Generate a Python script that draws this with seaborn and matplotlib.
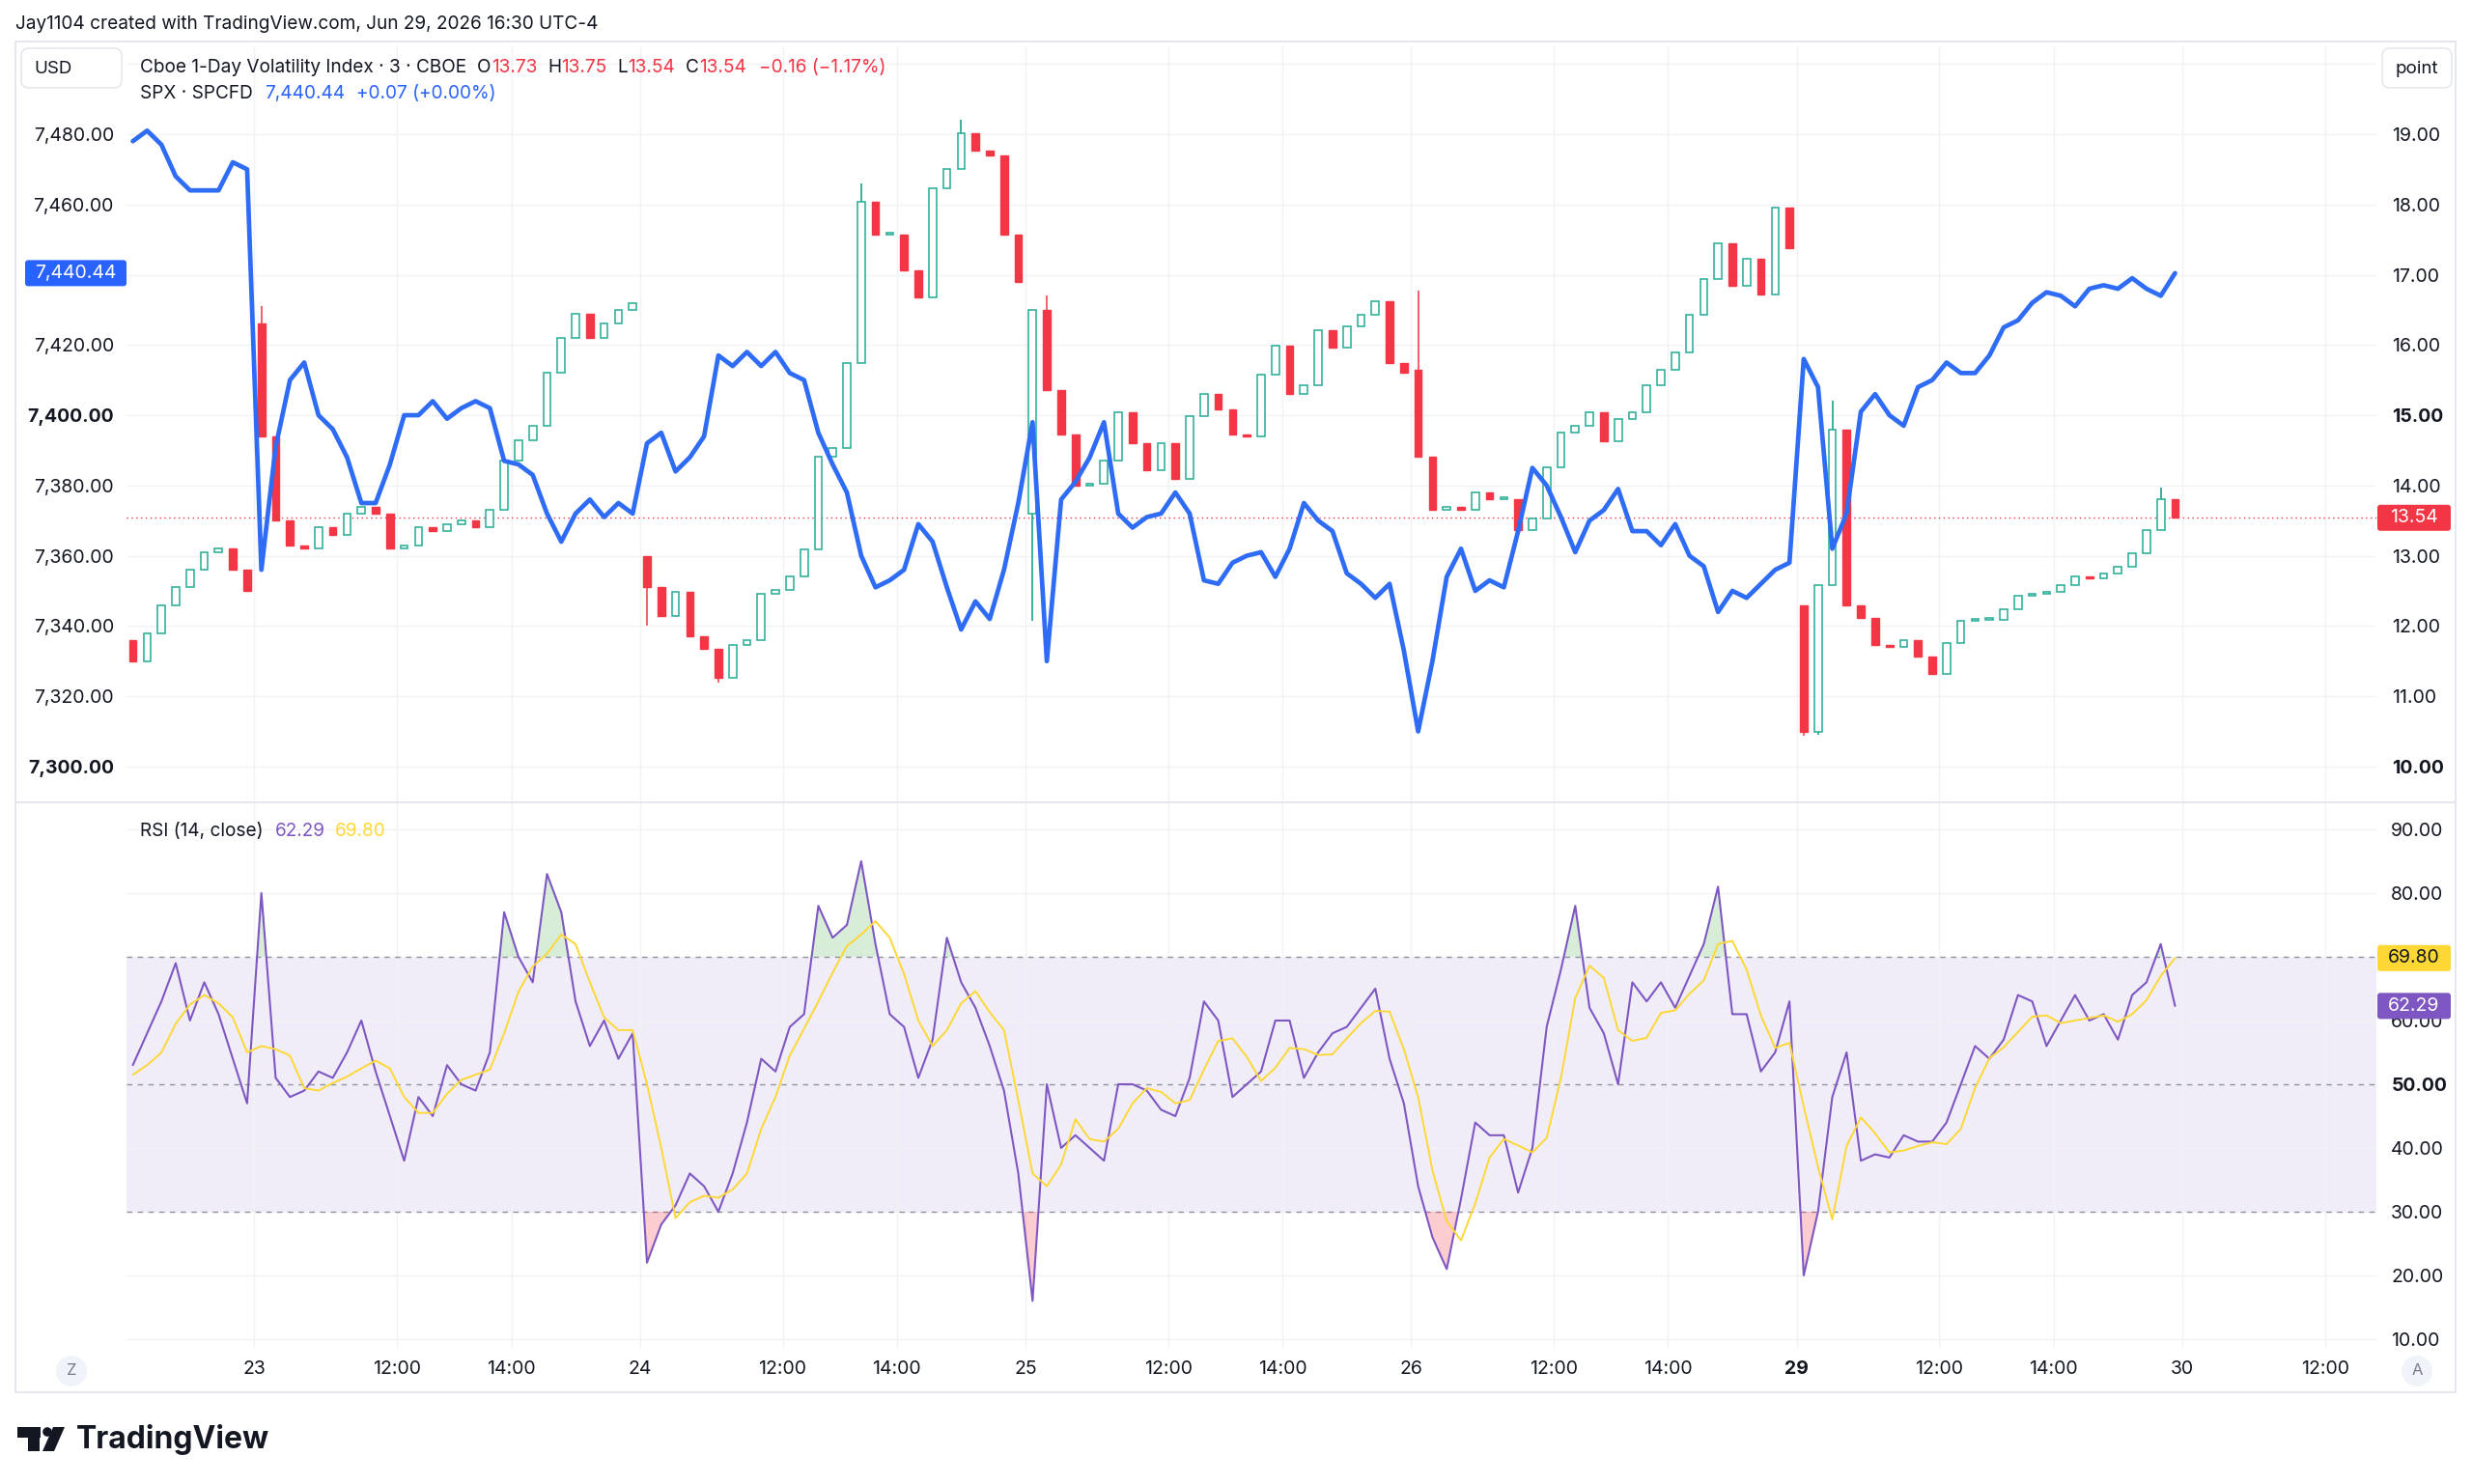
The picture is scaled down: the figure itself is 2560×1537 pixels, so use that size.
import numpy as np
import matplotlib
matplotlib.use("Agg")
import matplotlib.pyplot as plt
import seaborn as sns
from matplotlib.patches import FancyBboxPatch, Rectangle, Circle, Polygon

# ===================== DATA (15-minute bars) =====================
DAY_LABELS = ["23", "24", "25", "26", "29", "30"]
BOLD_DAYS = ["29"]

SPX_CLOSE = [
    7478, 7481, 7477, 7468, 7464, 7464, 7464, 7472, 7470,
    7356, 7391, 7410, 7415, 7400, 7396, 7388, 7375, 7375, 7386, 7400, 7400, 7404, 7399,
    7402, 7404, 7402, 7387, 7386, 7383, 7372, 7364, 7372, 7376, 7371, 7375, 7372,
    7392, 7395, 7384, 7388, 7394, 7417, 7414, 7418, 7414, 7418, 7412, 7410, 7395,
    7386, 7378, 7360, 7351, 7353, 7356, 7369, 7364, 7351, 7339, 7347, 7342, 7356, 7375,
    7398, 7330, 7376, 7381, 7388, 7398, 7372, 7368, 7371, 7372, 7378, 7372, 7353,
    7352, 7358, 7360, 7361, 7354, 7362, 7375, 7370, 7367, 7355, 7352, 7348, 7352, 7333,
    7310, 7330, 7354, 7362, 7350, 7353, 7351, 7367, 7385, 7380, 7371, 7361, 7370,
    7373, 7379, 7367, 7367, 7363, 7369, 7360, 7357, 7344, 7350, 7348, 7352, 7356, 7358,
    7416, 7408, 7362, 7372, 7401, 7406, 7400, 7397, 7408, 7410, 7415, 7412, 7412,
    7417, 7425, 7427, 7432, 7435, 7434, 7431, 7436, 7437, 7436, 7439, 7436, 7434, 7440.44,
]

VIX_CLOSE = [
    11.5, 11.9, 12.3, 12.55, 12.8, 13.05, 13.1, 12.8, 12.5,
    14.7, 13.5, 13.15, 13.1, 13.4, 13.3, 13.6, 13.7, 13.6, 13.1, 13.15, 13.4, 13.35, 13.45,
    13.5, 13.4, 13.65, 14.35, 14.65, 14.85, 15.6, 16.1, 16.45, 16.1, 16.3, 16.5, 16.6,
    12.55, 12.14, 12.49, 11.86, 11.67, 11.26, 11.73, 11.8, 12.46, 12.52, 12.71, 13.09, 14.41,
    14.54, 15.74, 18.04, 17.57, 17.57, 17.06, 16.68, 18.23, 18.51, 19.02, 18.77, 18.7, 17.57, 16.9,
    16.5, 15.36, 14.73, 14.0, 14.03, 14.35, 15.04, 14.6, 14.22, 14.6, 14.1, 14.98, 15.3,
    15.08, 14.73, 14.7, 15.58, 15.99, 15.3, 15.42, 16.21, 15.96, 16.27, 16.43, 16.62, 15.74, 15.61,
    14.41, 13.66, 13.69, 13.66, 13.9, 13.81, 13.81, 13.37, 13.53, 14.26, 14.76, 14.85, 15.04,
    14.63, 14.95, 15.04, 15.42, 15.64, 15.9, 16.43, 16.94, 17.44, 16.84, 17.22, 16.72, 17.95, 17.38,
    10.5, 12.58, 14.79, 12.3, 12.11, 11.73, 11.7, 11.8, 11.57, 11.32, 11.76, 12.08, 12.09,
    12.09, 12.24, 12.43, 12.46, 12.49, 12.58, 12.71, 12.68, 12.74, 12.84, 13.03, 13.37, 13.81, 13.54,
]
# opening prints of each session (VIX1D gaps between days)
VIX_SESSION_OPEN = {0: 11.8, 9: 16.3, 36: 13.0, 63: 13.6, 90: 15.65, 117: 12.3}
VIX_WICK_HIGH = {9: 16.56, 51: 18.3, 58: 19.2, 64: 16.7, 90: 16.78, 119: 15.2, 142: 13.97}
VIX_WICK_LOW = {36: 12.0, 41: 11.2, 63: 12.08, 117: 10.44, 118: 10.45}

RSI = [
    53, 58, 63, 69, 60, 66, 61, 54, 47,
    80, 51, 48, 49, 52, 51, 55, 60, 52, 45, 38, 48, 45, 53,
    50, 49, 55, 77, 70, 66, 83, 77, 63, 56, 60, 54, 58,
    22, 28, 31, 36, 34, 30, 36, 44, 54, 52, 59, 61, 78,
    73, 75, 85, 72, 61, 59, 51, 57, 73, 66, 62, 56, 49, 36,
    16, 50, 40, 42, 40, 38, 50, 50, 49, 46, 45, 51, 63,
    60, 48, 50, 52, 60, 60, 51, 55, 58, 59, 62, 65, 54, 47,
    34, 26, 21, 32, 44, 42, 42, 33, 40, 59, 68, 78, 62,
    58, 50, 66, 63, 66, 62, 67, 72, 81, 61, 61, 52, 55, 63,
    20, 30, 48, 55, 38, 39, 38.5, 42, 41, 41, 44, 50, 56,
    54, 57, 64, 63, 56, 60, 64, 60, 61, 57, 64, 66, 72, 62.29,
]

RSI_MA = [
    51.5, 53, 55, 59.5, 62.5, 64, 62.7, 60.5, 55,
    56, 55.5, 54.5, 49.4, 49, 50.2, 51.2, 52.5, 53.7, 52.5, 48, 45.5, 45.5, 48.5,
    50.7, 51.5, 52.3, 58, 64.5, 68.5, 70.5, 73.5, 72, 66, 60.5, 58.5, 58.5,
    50, 40, 29, 31.5, 32.5, 32.2, 33.5, 36, 43, 48, 54.5, 58.7, 63,
    67.5, 71.7, 73.5, 75.6, 73, 67.3, 60, 56, 58.5, 62.7, 64.6, 61.3, 58.5, 47.5,
    36, 34, 37.4, 44.5, 41.4, 41, 43, 47, 49.4, 48.8, 47, 47.5, 52.3,
    56.8, 57.2, 54.3, 50.5, 52.6, 55.7, 55.5, 54.6, 54.7, 57.2, 59.6, 61.5, 61.4, 55.5,
    48, 36.5, 28.5, 25.5, 31.3, 38.5, 41.4, 40.4, 39.3, 41.6, 51, 63.5, 68.6,
    66.7, 58.5, 56.8, 57.3, 61.2, 61.6, 64.2, 66.3, 72, 72.5, 68, 60.8, 55.7, 56.5,
    46.5, 37, 28.8, 40.3, 44.8, 42.3, 39.3, 39.6, 40.3, 40.9, 40.6, 43, 49.4,
    54.1, 55.8, 58.2, 60.6, 60.8, 59.6, 60, 60.4, 60.8, 59.8, 61, 63.2, 67, 69.8,
]

assert len(SPX_CLOSE) == len(VIX_CLOSE) == len(RSI) == len(RSI_MA) == 144

# ===================== STYLE / LAYOUT =====================
GREEN = "#089981"
RED = "#f23645"
BLUE = "#2962ff"
PURPLE = "#7e57c2"
YELLOW = "#fdd835"
TEXT = "#131722"
GRID = "#f0f2f5"
BORDER = "#e0e3eb"

FIG_W, FIG_H = 2560, 1537
PLOT_L, PLOT_R = 131, 2461
MAIN_T, MAIN_B = 48, 831
RSI_T, RSI_B = 831, 1397
FRAME_L, FRAME_T, FRAME_R, FRAME_B = 16, 43, 2543, 1442

VIX_LIM = (9.49, 20.25)
SPX_LIM = (7289.8, 7505.0)
RSI_LIM = (8.48, 94.24)
X_LIM = (-0.445, 157.1)

FIRST_SESSION_BARS = 9     # 14:00-16:15 on the 22nd
BARS_PER_DAY = 27          # 9:30-16:15, 15-minute bars

sns.set_theme(style="white")
plt.rcParams["font.family"] = ["Inter", "DejaVu Sans"]


def frac_box(l, t, r, b):
    return [l / FIG_W, 1 - b / FIG_H, (r - l) / FIG_W, (b - t) / FIG_H]


fig = plt.figure(figsize=(FIG_W / 100, FIG_H / 100), dpi=100)
fig.patch.set_facecolor("white")

ax_v = fig.add_axes(frac_box(PLOT_L, MAIN_T, PLOT_R, MAIN_B))
ax_r = fig.add_axes(frac_box(PLOT_L, RSI_T, PLOT_R, RSI_B), sharex=ax_v)
ax_s = ax_v.twinx()

x = np.arange(len(VIX_CLOSE))

# ===================== VIX1D CANDLES =====================
opens = np.array([VIX_SESSION_OPEN.get(i, VIX_CLOSE[i - 1]) for i in x])
closes = np.array(VIX_CLOSE)
up = closes >= opens
lo = np.minimum(opens, closes)
hi = np.maximum(opens, closes)
body = np.maximum(hi - lo, 0.025)

for i in sorted(set(VIX_WICK_HIGH) | set(VIX_WICK_LOW)):
    col = GREEN if up[i] else RED
    ax_v.vlines(i, VIX_WICK_LOW.get(i, lo[i]), VIX_WICK_HIGH.get(i, hi[i]),
                color=col, lw=1.1, zorder=2)

ax_v.bar(x[up], body[up], bottom=lo[up], width=0.52, facecolor="white",
         edgecolor="#22ab94", linewidth=1.1, zorder=3)
ax_v.bar(x[~up], body[~up], bottom=lo[~up], width=0.52, facecolor=RED,
         edgecolor=RED, linewidth=1.0, zorder=3)
ax_v.axhline(VIX_CLOSE[-1], color=RED, ls=(0, (1, 2.5)), lw=1.0, zorder=1)

# ===================== SPX LINE =====================
sns.lineplot(x=x, y=SPX_CLOSE, ax=ax_s, color="#2f6cf6", linewidth=3.4, legend=False)
ax_s.lines[-1].set_solid_joinstyle("round")

# ===================== RSI PANE =====================
rsi = np.array(RSI, dtype=float)
ax_r.axhspan(30, 70, color=PURPLE, alpha=0.1, lw=0, zorder=0)
for lvl in (70, 50, 30):
    ax_r.axhline(lvl, color="#787b86", ls=(0, (4, 4)), lw=1.0, alpha=0.8, zorder=1)
ax_r.fill_between(x, rsi, 70, where=rsi > 70, interpolate=True,
                  color="#4caf50", alpha=0.22, lw=0, zorder=2)
ax_r.fill_between(x, rsi, 30, where=rsi < 30, interpolate=True,
                  color=RED, alpha=0.25, lw=0, zorder=2)
sns.lineplot(x=x, y=rsi, ax=ax_r, color=PURPLE, linewidth=1.5, legend=False)
sns.lineplot(x=x, y=RSI_MA, ax=ax_r, color=YELLOW, linewidth=1.4, legend=False)

# ===================== AXES =====================
ax_v.set_xlim(*X_LIM)
ax_v.set_ylim(*VIX_LIM)
ax_s.set_ylim(*SPX_LIM)
ax_r.set_ylim(*RSI_LIM)

for a in (ax_v, ax_s, ax_r):
    for s in a.spines.values():
        s.set_visible(False)
    a.set_xlabel("")
    a.set_ylabel("")
    a.set_facecolor("none")
ax_v.set_facecolor("white")
ax_r.set_facecolor("white")

# time ticks: day start, 12:00 and 14:00 of each session
ticks, tick_labels = [], []
for k, day in enumerate(DAY_LABELS):
    start = FIRST_SESSION_BARS + k * BARS_PER_DAY - 0.5
    for off, lab in ((0, day), (10, "12:00"), (18, "14:00")):
        if start + off < X_LIM[1]:
            ticks.append(start + off)
            tick_labels.append(lab)
ax_r.set_xticks(ticks)
ax_r.set_xticklabels(tick_labels)
ax_v.tick_params(axis="x", labelbottom=False, length=0)
ax_r.tick_params(axis="x", length=0, pad=8.5, labelsize=14, labelcolor=TEXT)
for t in ax_r.get_xticklabels():
    if t.get_text() in BOLD_DAYS:
        t.set_fontweight("bold")

vix_ticks = np.arange(10, 21)
ax_v.set_yticks(vix_ticks)
ax_v.set_yticklabels(["" if v == 20 else f"{v:.2f}" for v in vix_ticks])
ax_v.yaxis.tick_right()
ax_v.tick_params(axis="y", length=0, pad=11.5, labelsize=14, labelcolor=TEXT)

spx_ticks = np.arange(7300, 7501, 20)
ax_s.set_yticks(spx_ticks)
ax_s.set_yticklabels(["" if v == 7500 else f"{v:,.2f}" for v in spx_ticks])
ax_s.yaxis.tick_left()
ax_s.tick_params(axis="y", length=0, pad=9.4, labelsize=14, labelcolor=TEXT)
ax_s.tick_params(axis="x", length=0, labelbottom=False)

rsi_ticks = np.arange(10, 91, 10)
ax_r.set_yticks(rsi_ticks)
ax_r.set_yticklabels([f"{v:.2f}" for v in rsi_ticks])
ax_r.yaxis.tick_right()
ax_r.tick_params(axis="y", length=0, pad=11, labelsize=14, labelcolor=TEXT)

for a, bold in ((ax_v, ("15.00", "10.00")), (ax_s, ("7,400.00", "7,300.00")), (ax_r, ("50.00",))):
    for t in a.get_yticklabels():
        if t.get_text() in bold:
            t.set_fontweight("bold")

ax_v.grid(True, color=GRID, lw=1.0, zorder=0)
ax_s.grid(False)
ax_r.grid(True, color=GRID, lw=1.0, zorder=0)
ax_v.set_axisbelow(True)
ax_r.set_axisbelow(True)

# ===================== OVERLAY (frame, legends, labels) =====================
ov = fig.add_axes([0, 0, 1, 1])
ov.set_xlim(0, FIG_W)
ov.set_ylim(FIG_H, 0)
ov.axis("off")
ov.patch.set_alpha(0)
ov.set_zorder(10)

ov.add_patch(Rectangle((FRAME_L, FRAME_T), FRAME_R - FRAME_L, FRAME_B - FRAME_T,
                       fill=False, edgecolor=BORDER, lw=1.2))
ov.plot([FRAME_L, FRAME_R], [MAIN_B, MAIN_B], color=BORDER, lw=1.2)

renderer = fig.canvas.get_renderer()


def text_run(x0, y0, runs, size=13.5):
    for txt, col, gap in runs:
        t = ov.text(x0, y0, txt, color=col, fontsize=size, va="center", ha="left")
        x0 += t.get_window_extent(renderer).width + gap


ov.text(16, 25, "Jay1104 created with TradingView.com, Jun 29, 2026 16:30 UTC-4",
        fontsize=13.7, color=TEXT, va="center", ha="left")

text_run(145, 70, [
    ("Cboe 1-Day Volatility Index · 3 · CBOE", TEXT, 11),
    ("O", TEXT, 0), ("13.73", RED, 11),
    ("H", TEXT, 0), ("13.75", RED, 11),
    ("L", TEXT, 0), ("13.54", RED, 11),
    ("C", TEXT, 0), ("13.54", RED, 13),
    ("\u22120.16 (\u22121.17%)", RED, 0),
], size=13.7)
text_run(145, 97, [
    ("SPX · SPCFD", TEXT, 12),
    ("7,440.44", BLUE, 12),
    ("+0.07 (+0.00%)", BLUE, 0),
], size=13.7)
text_run(145, 861, [
    ("RSI (14, close)", TEXT, 12),
    ("62.29", PURPLE, 10),
    ("69.80", YELLOW, 0),
], size=13.7)


def rbox(x0, y0, x1, y1, fc, ec="none", r=4, lw=1.0):
    ov.add_patch(FancyBboxPatch((x0, y0), x1 - x0, y1 - y0,
                                boxstyle=f"round,pad=0,rounding_size={r}",
                                fc=fc, ec=ec, lw=lw))


rbox(22, 50, 126, 91, "white", BORDER, r=8)
ov.text(35, 71, "USD", fontsize=13.5, color=TEXT, va="center", ha="left")
rbox(2467, 50, 2539, 91, "white", BORDER, r=8)
ov.text(2503, 71, "point", fontsize=13.5, color=TEXT, va="center", ha="center")


def y_px(v, lim, top, bot):
    return top + (lim[1] - v) / (lim[1] - lim[0]) * (bot - top)


def price_tag(x0, x1, v, lim, top, bot, fc, tc, txt, ha="center"):
    yc = y_px(v, lim, top, bot)
    rbox(x0, yc - 13.5, x1, yc + 13.5, fc, r=3)
    ov.text((x0 + x1) / 2, yc, txt, fontsize=14, color=tc, va="center", ha=ha)


price_tag(2462, 2538, VIX_CLOSE[-1], VIX_LIM, MAIN_T, MAIN_B, RED, "white", f"{VIX_CLOSE[-1]:.2f}")
price_tag(26, 131, SPX_CLOSE[-1], SPX_LIM, MAIN_T, MAIN_B, BLUE, "white", f"{SPX_CLOSE[-1]:,.2f}")
price_tag(2462, 2538, RSI_MA[-1], RSI_LIM, RSI_T, RSI_B, YELLOW, TEXT, f"{RSI_MA[-1]:.2f}")
price_tag(2462, 2538, RSI[-1], RSI_LIM, RSI_T, RSI_B, PURPLE, "white", f"{RSI[-1]:.2f}")

for cx, lab in ((74, "Z"), (2503, "A")):
    ov.add_patch(Circle((cx, 1420), 16, fc="#f0f3fa", ec="none"))
    ov.text(cx, 1420, lab, fontsize=12, color="#787b86", va="center", ha="center")

# TradingView mark + wordmark
ov.add_patch(Rectangle((18, 1478), 24, 11, fc=TEXT, ec="none"))
ov.add_patch(Rectangle((29, 1478), 12, 25, fc=TEXT, ec="none"))
ov.add_patch(Circle((49, 1483), 4.8, fc=TEXT, ec="none"))
ov.add_patch(Polygon([(55, 1478), (67, 1478), (56, 1503), (44, 1503)], closed=True, fc=TEXT, ec="none"))
ov.text(79, 1491, "TradingView", fontsize=23, fontweight="bold", color=TEXT,
        va="center", ha="left")

fig.savefig("out.png", dpi=100, facecolor="white")
